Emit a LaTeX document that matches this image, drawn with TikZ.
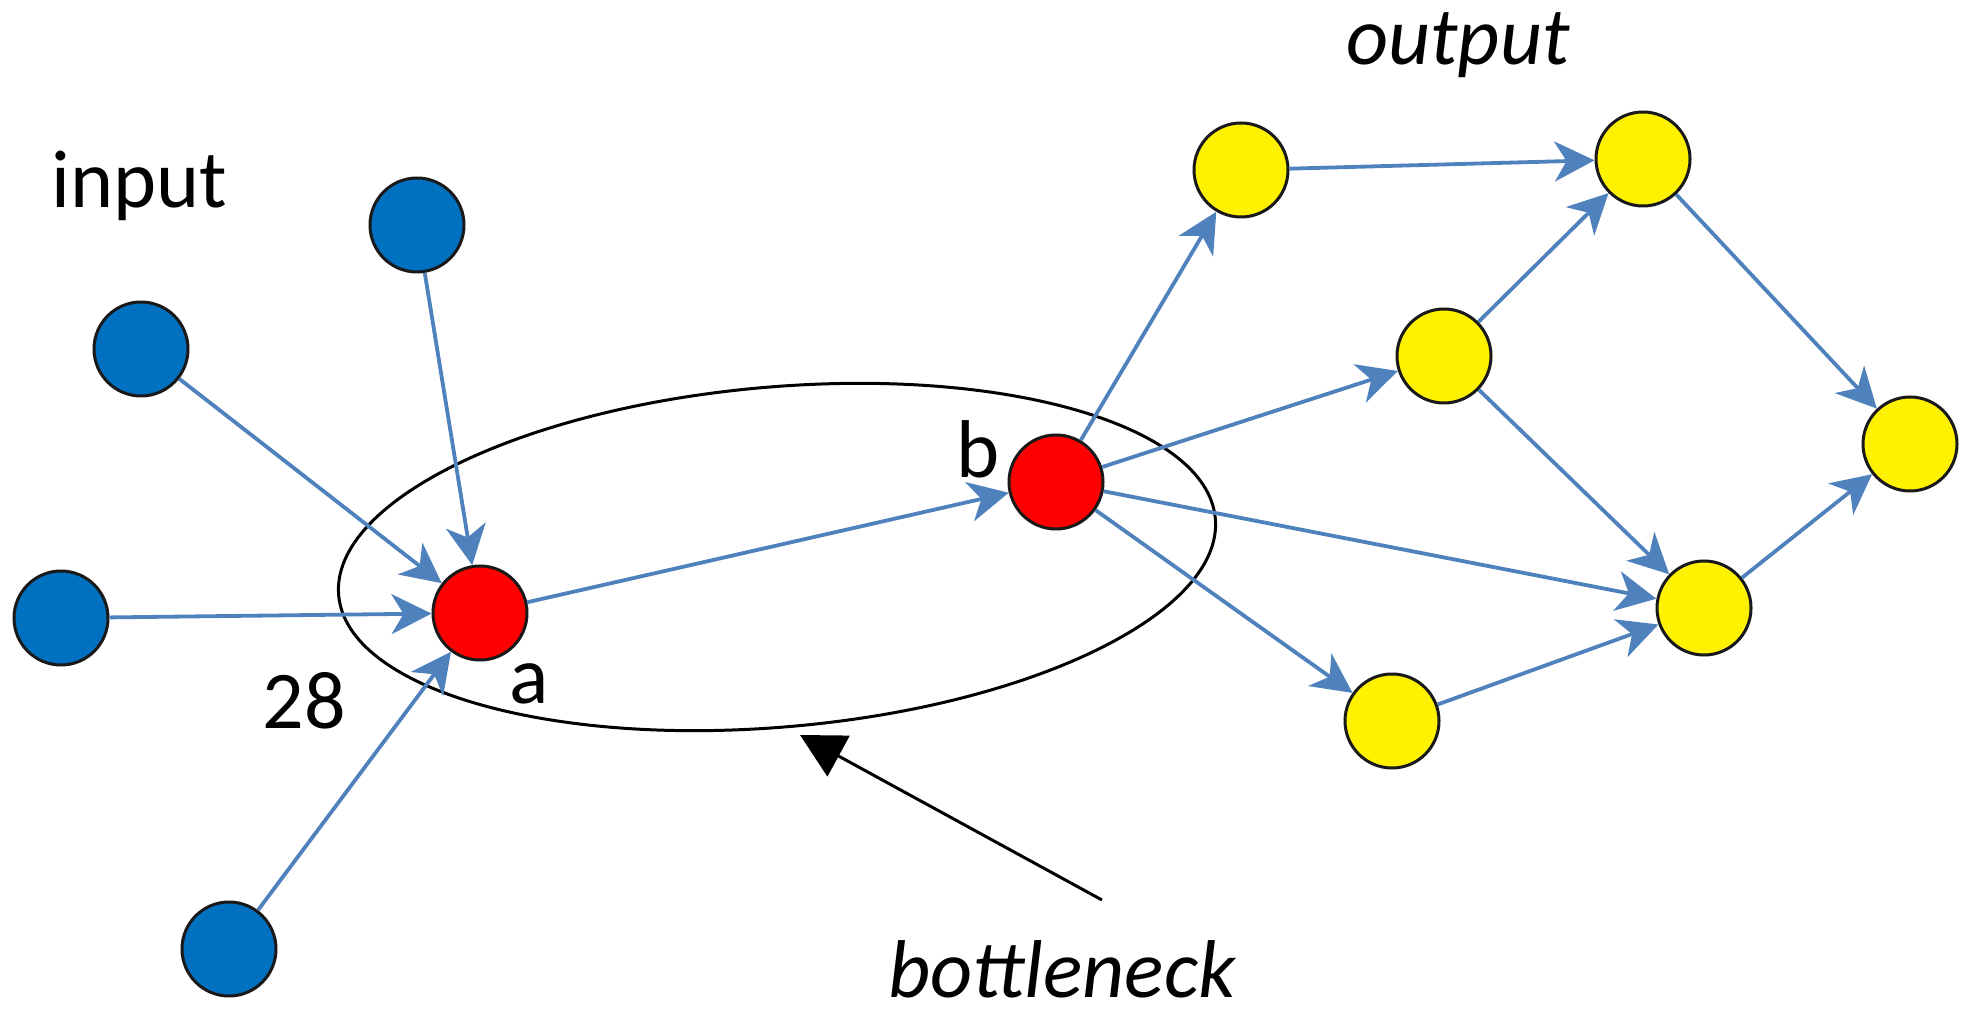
\documentclass[tikz,border=0pt]{standalone}
\usepackage{fontspec}
\setmainfont{Carlito}
\usetikzlibrary{shapes.geometric,arrows.meta}
\definecolor{edgeblue}{RGB}{79,129,189}
\definecolor{nodeblue}{RGB}{0,112,192}
\begin{document}
\begin{tikzpicture}[x=0.5pt,y=-0.5pt,
  dot/.style={circle, draw=black!90, line width=1.5pt, minimum size=47pt, inner sep=0pt},
  inp/.style={dot, fill=nodeblue},
  midn/.style={dot, fill=red},
  outp/.style={dot, fill=yellow},
  link/.style={draw=edgeblue, line width=1.9pt, -{Stealth[length=20pt,width=20pt,inset=6pt]}},
  lbl/.style={font=\fontsize{41}{49}\selectfont, inner sep=0pt, anchor=base},
  itlbl/.style={lbl, font=\fontsize{41}{49}\selectfont\itshape},
]
\useasboundingbox (0,0) rectangle (1964,1015);
% bottleneck ellipse
\node[draw=black, ellipse, line width=1.5pt, minimum width=440pt, minimum height=170pt, inner sep=0pt, rotate=5] (neck) at (777,557) {};
% input nodes
\node[inp] (i1) at (417,225) {};
\node[inp] (i2) at (141,349) {};
\node[inp] (i3) at (61,618) {};
\node[inp] (i4) at (229,949) {};
% bottleneck nodes
\node[midn] (a) at (480,613) {};
\node[midn] (b) at (1056,482) {};
% output nodes
\node[outp] (o1) at (1241,170) {};
\node[outp] (o2) at (1643,159) {};
\node[outp] (o3) at (1444,356) {};
\node[outp] (o4) at (1910,444) {};
\node[outp] (o5) at (1704,608) {};
\node[outp] (o6) at (1392,721) {};
% edges
\draw[link] (i1) -- (a);
\draw[link] (i2) -- (a);
\draw[link] (i3) -- (a);
\draw[link] (i4) -- (a);
\draw[link] (a) -- (b);
\draw[link] (b) -- (o1);
\draw[link] (b) -- (o3);
\draw[link] (b) -- (o5);
\draw[link] (b) -- (o6);
\draw[link] (o1) -- (o2);
\draw[link] (o3) -- (o2);
\draw[link] (o3) -- (o5);
\draw[link] (o2) -- (o4);
\draw[link] (o6) -- (o5);
\draw[link] (o5) -- (o4);
% pointer to the bottleneck
\coordinate (ptrS) at (1102,900);
\coordinate (ptrT) at (800,735);
\draw[black, line width=1.5pt, -{Triangle[length=22pt,width=23pt]}] (ptrS) -- (ptrT);
% labels
\node[lbl] (tin) at (139,208) {input};
\node[itlbl] (tout) at (1458,65) {output};
\node[itlbl] (tneck) at (1062,997) {bottleneck};
\node[lbl] (t28) at (304,728) {28};
\node[lbl] (ta) at (529,703) {a};
\node[lbl] (tb) at (978,478) {b};
\end{tikzpicture}
\end{document}
